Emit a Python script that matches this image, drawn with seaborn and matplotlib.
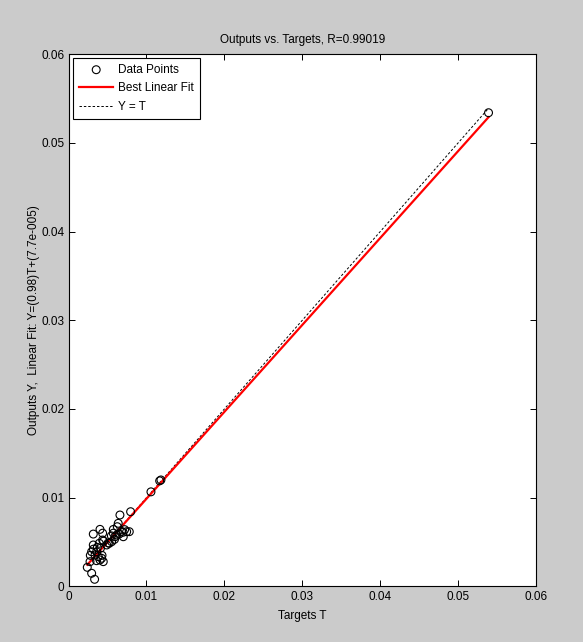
import numpy as np
import pandas as pd
import matplotlib
matplotlib.use("Agg")
import matplotlib.pyplot as plt
import seaborn as sns

# data
targets = [0.00335, 0.00297, 0.00241, 0.00276, 0.00318, 0.00404, 0.00438, 0.0066,
           0.00797, 0.00626, 0.00746, 0.0078, 0.00703, 0.00575, 0.00596, 0.00554,
           0.00523, 0.0049, 0.00438, 0.00395, 0.00318, 0.00297, 0.0034, 0.00382,
           0.00425, 0.00446, 0.00404, 0.00361, 0.00638, 0.00575, 0.0062, 0.0068,
           0.0072, 0.0059, 0.0055, 0.0045, 0.0041, 0.0037, 0.0032, 0.0028,
           0.0051, 0.0065, 0.0070, 0.0043, 0.0036,
           0.01058, 0.01186, 0.0117, 0.0539]
outputs = [0.0008, 0.00148, 0.00215, 0.00279, 0.0059, 0.00643, 0.0060, 0.00805,
           0.00842, 0.00673, 0.00617, 0.00617, 0.0056, 0.0060, 0.0056, 0.00504,
           0.00486, 0.00467, 0.00523, 0.00486, 0.00467, 0.00391, 0.00354, 0.00335,
           0.00317, 0.00279, 0.00298, 0.00391, 0.00711, 0.00642, 0.0058, 0.0062,
           0.0064, 0.0053, 0.0057, 0.0051, 0.0043, 0.0044, 0.0042, 0.0035,
           0.0049, 0.0059, 0.0061, 0.0035, 0.0029,
           0.01066, 0.0120, 0.0119, 0.0534]
fit_slope = 0.98
fit_offset = 7.7e-5
r_value = 0.99019

df = pd.DataFrame({"T": targets, "Y": outputs})
t_ends = np.array([min(targets), max(targets)])
fit_df = pd.DataFrame({"T": t_ends, "Y": fit_slope * t_ends + fit_offset})
eq_df = pd.DataFrame({"T": t_ends, "Y": t_ends})

plt.rcParams["font.family"] = ["Liberation Sans", "DejaVu Sans"]

bg = "#cbcbcb"
fig = plt.figure(figsize=(5.83, 6.42), dpi=100, facecolor=bg)
ax = fig.add_axes([0.1175, 0.0866, 0.802, 0.829])

sns.scatterplot(data=df, x="T", y="Y", ax=ax, marker="o", s=32,
                facecolors="none", edgecolor="black", linewidth=0.8,
                label="Data Points", zorder=3)
sns.lineplot(data=fit_df, x="T", y="Y", ax=ax, color="red", linewidth=1.6,
             label="Best Linear Fit", zorder=2)
sns.lineplot(data=eq_df, x="T", y="Y", ax=ax, color="black", linewidth=0.7,
             linestyle=(0, (2.5, 2)), label="Y = T", zorder=1)

ax.set_xlim(0, 0.06)
ax.set_ylim(0, 0.06)
ticks = [0, 0.01, 0.02, 0.03, 0.04, 0.05, 0.06]
tick_labels = ["0", "0.01", "0.02", "0.03", "0.04", "0.05", "0.06"]
ax.set_xticks(ticks)
ax.set_xticklabels(tick_labels)
ax.set_yticks(ticks)
ax.set_yticklabels(tick_labels)
ax.tick_params(direction="in", top=True, right=True, length=4, width=0.7,
               labelsize=8.5, pad=3)
for sp in ax.spines.values():
    sp.set_linewidth(0.8)

ax.set_title(f"Outputs vs. Targets, R={r_value}", fontsize=8.5, pad=8)
ax.set_xlabel("Targets T", fontsize=8.5, labelpad=5)
ax.set_ylabel("Outputs Y,  Linear Fit: Y=(0.98)T+(7.7e-005)", fontsize=8.5, labelpad=1)

leg = ax.legend(loc="upper left", bbox_to_anchor=(0.01, 0.993), fontsize=8.5,
                frameon=True, fancybox=False, edgecolor="black", framealpha=1,
                handlelength=2.9, handletextpad=0.4, borderaxespad=0,
                borderpad=0.5, labelspacing=0.55)
leg.get_frame().set_linewidth(0.8)

fig.savefig("out.png", dpi=100, facecolor=bg)
